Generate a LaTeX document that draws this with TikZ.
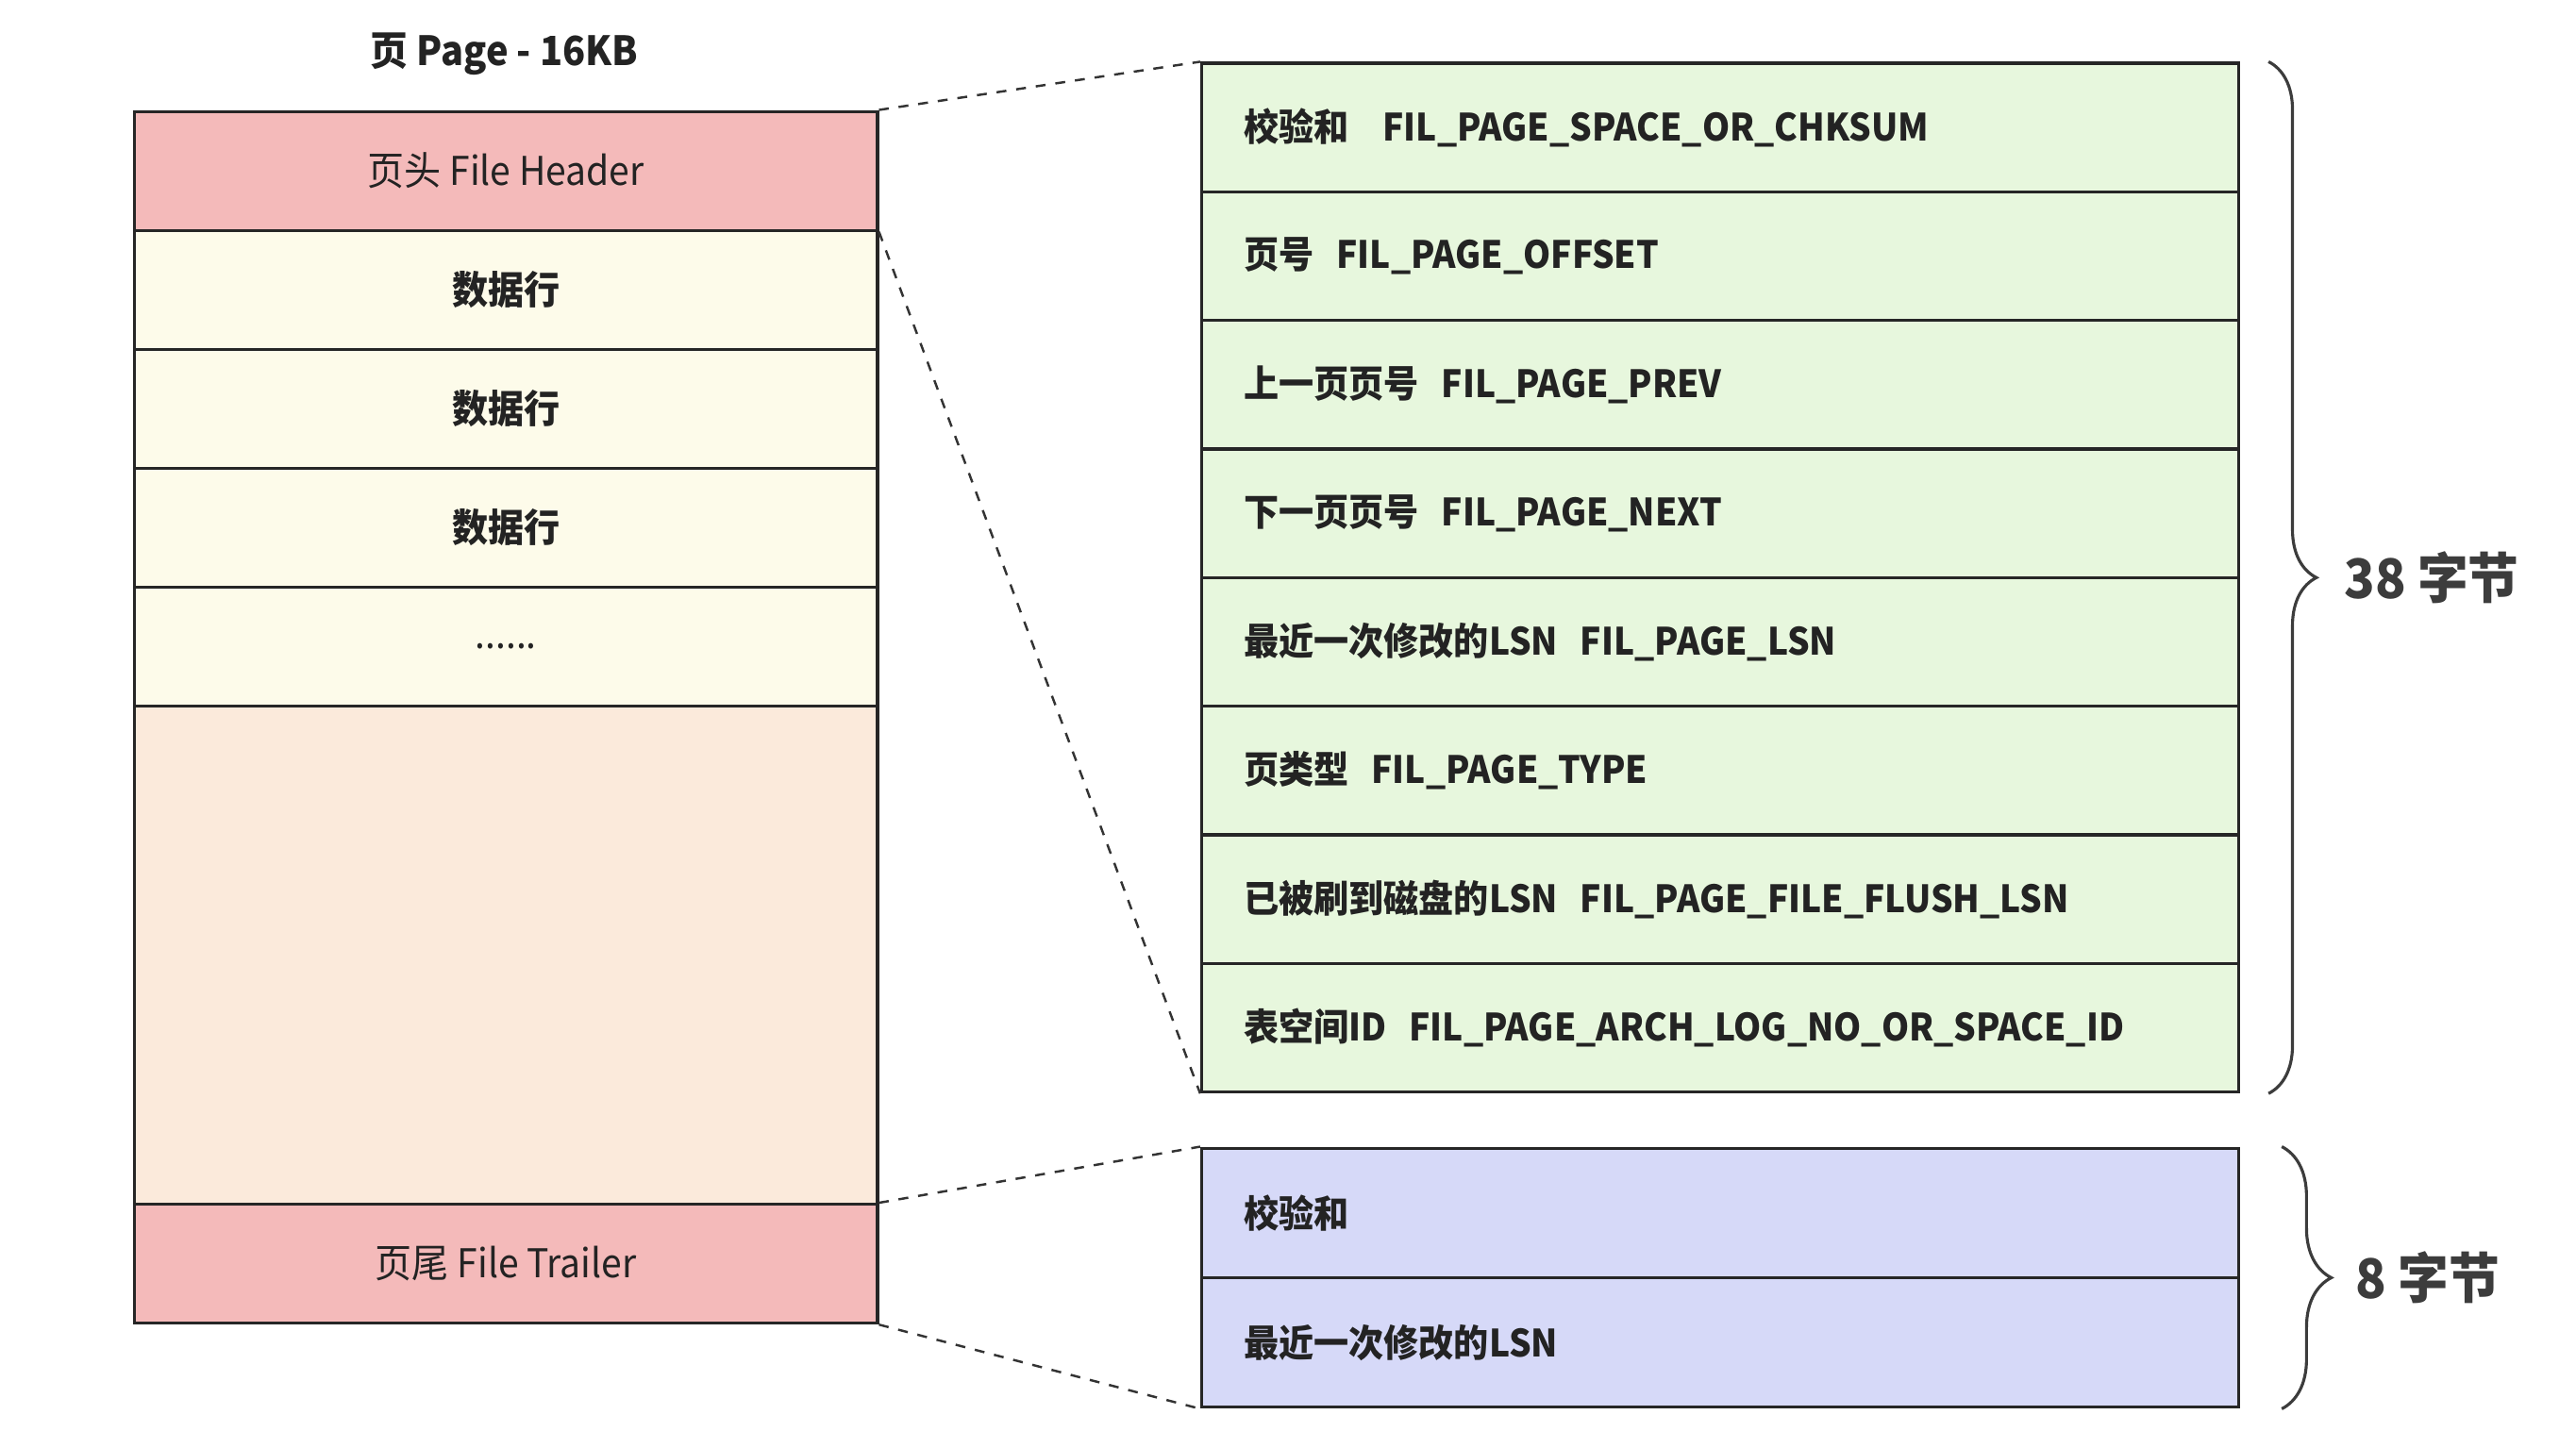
\documentclass[tikz,border=0pt]{standalone}
\usepackage{fontspec}
\setmainfont{Noto Sans CJK SC}[FakeStretch=0.93]
\usetikzlibrary{decorations.pathreplacing}
\definecolor{hdrpink}{RGB}{244,186,186}
\definecolor{rowcream}{RGB}{253,251,234}
\definecolor{freepeach}{RGB}{251,234,219}
\definecolor{fldgreen}{RGB}{231,247,221}
\definecolor{trlblue}{RGB}{214,217,248}
\definecolor{bracegray}{RGB}{60,60,60}
\definecolor{txtgray}{RGB}{35,35,35}

\begin{document}
\begin{tikzpicture}[x=0.5pt,y=0.5pt,yscale=-1,xscale=1,
  cell/.style={draw=black!85,line width=0.9pt,minimum width=225pt,inner sep=0pt,text=txtgray,font=\fontsize{12}{14}\selectfont},
  rowcell/.style={cell,fill=rowcream,minimum height=36pt,font=\fontsize{11.7}{14}\selectfont\bfseries},
  field/.style={draw=black!85,line width=0.9pt,minimum width=314pt,minimum height=38.95pt,inner xsep=12.8pt,inner ysep=0pt,text width=288.4pt,align=left,text=txtgray,font=\fontsize{11.4}{13}\selectfont\bfseries},
  zoomline/.style={dashed,line width=0.7pt,black!80},
  bytebrace/.style={decorate,bracegray,line width=0.9pt}]
\useasboundingbox (0,0) rectangle (1560,877);

% page title
\node[text=txtgray,font=\fontsize{12.2}{14}\selectfont\bfseries] (title) at (305.5,32.8) {页 Page - 16KB};

% left column: the page
\node[cell,fill=hdrpink,minimum height=36pt] (hdr) at (306.4,103.5) {页头 File Header};
\node[rowcell] (row1) at (306.4,175.5) {数据行};
\node[rowcell] (row2) at (306.4,247.5) {数据行};
\node[rowcell] (row3) at (306.4,319.5) {数据行};
\node[cell,fill=rowcream,minimum height=36pt] (more) at (306.4,391.5) {......};
\node[cell,fill=freepeach,minimum height=151pt] (free) at (306.4,578.5) {};
\node[cell,fill=hdrpink,minimum height=36pt] (trl) at (306.4,765.5) {页尾 File Trailer};

% right column: header fields
\foreach \txt [count=\i] in {
  校验和\hspace{0.9em}FIL\_PAGE\_SPACE\_OR\_CHKSUM,
  页号\hspace{0.6em}FIL\_PAGE\_OFFSET,
  上一页页号\hspace{0.6em}FIL\_PAGE\_PREV,
  下一页页号\hspace{0.6em}FIL\_PAGE\_NEXT,
  最近一次修改的LSN\hspace{0.6em}FIL\_PAGE\_LSN,
  页类型\hspace{0.6em}FIL\_PAGE\_TYPE,
  已被刷到磁盘的LSN\hspace{0.6em}FIL\_PAGE\_FILE\_FLUSH\_LSN,
  表空间ID\hspace{0.6em}FIL\_PAGE\_ARCH\_LOG\_NO\_OR\_SPACE\_ID}
  \node[field,fill=fldgreen] (f\i) at (1041.7,{38.3+77.9*(\i-0.5)}) {\txt};

% right column: trailer fields
\node[field,fill=trlblue,minimum height=39.25pt] (t1) at (1041.7,734.75) {校验和};
\node[field,fill=trlblue,minimum height=39.25pt] (t2) at (1041.7,813.25) {最近一次修改的LSN};

% zoom lines
\draw[zoomline] (hdr.north east) -- (f1.north west);
\draw[zoomline] (hdr.south east) -- (f8.south west);
\draw[zoomline] (trl.north east) -- (t1.north west);
\draw[zoomline] (trl.south east) -- (t2.south west);

% braces
\draw[bytebrace,decoration={brace,amplitude=14.5pt}] ([xshift=8.6pt]f1.north east) -- ([xshift=8.6pt]f8.south east)
  node[midway,anchor=west,xshift=22.5pt,inner sep=0pt,text=bracegray,font=\fontsize{16.5}{18}\selectfont\bfseries] (hdrbytes) {38 字节};
\draw[bytebrace,decoration={brace,amplitude=15pt}] ([xshift=12.6pt]t1.north east) -- ([xshift=12.6pt]t2.south east)
  node[midway,anchor=west,xshift=22pt,inner sep=0pt,text=bracegray,font=\fontsize{16.5}{18}\selectfont\bfseries] (trlbytes) {8 字节};
\end{tikzpicture}
\end{document}
